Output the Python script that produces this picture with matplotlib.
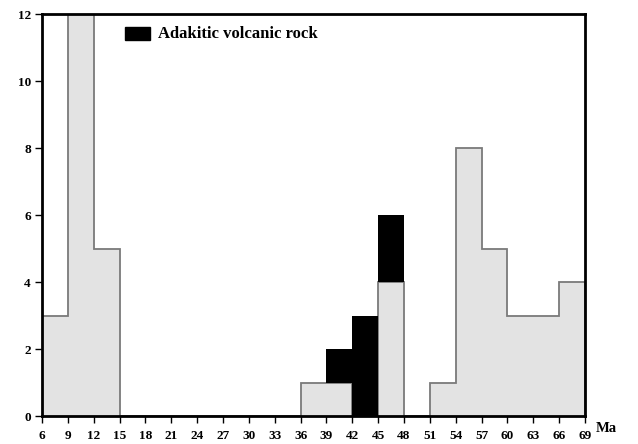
import numpy as np
import matplotlib.pyplot as plt
from matplotlib.patches import Rectangle

# Age bins (Ma), 3 Ma wide
edges = np.arange(6, 70, 3)
# counts of all dated rocks per bin (light gray)
gray_counts = [3, 12, 5, 0, 0, 0, 0, 0, 0, 0, 1, 1, 0, 4, 0, 1, 8, 5, 3, 3, 4]
# adakitic volcanic rock counts per bin (black, stacked on gray)
adakite_counts = [0, 0, 0, 0, 0, 0, 0, 0, 0, 0, 0, 1, 3, 2, 0, 0, 0, 0, 0, 0, 0]

plt.rcParams['font.family'] = ['Liberation Serif', 'DejaVu Serif']
plt.rcParams['font.weight'] = 'bold'

fig = plt.figure(figsize=(6.38, 4.44), dpi=100)
ax = fig.add_axes([42 / 638, 1 - 416 / 444, (585 - 42) / 638, (416 - 14) / 444])

ax.stairs(gray_counts, edges, fill=True, facecolor='#e3e3e3', edgecolor='#7a7a7a',
          linewidth=1.3, baseline=0)

centers = edges[:-1] + 1.5
ax.bar(centers, adakite_counts, width=3, bottom=gray_counts, color='black', linewidth=0)

ax.set_xlim(6, 69)
ax.set_ylim(0, 12)
ax.set_xticks(edges)
ax.set_yticks(np.arange(0, 13, 2))
ax.tick_params(direction='out', length=5, width=1, labelsize=9.5, pad=3)
ax.tick_params(axis='x', pad=5)
for lab in ax.get_xticklabels() + ax.get_yticklabels():
    lab.set_fontweight('bold')
for s in ax.spines.values():
    s.set_linewidth(2)

ax.text(1.02, -0.015, 'Ma', transform=ax.transAxes, fontsize=10.5, fontweight='bold',
        ha='left', va='top')

# legend
ax.add_patch(Rectangle((0.153, 0.935), 0.045, 0.032, transform=ax.transAxes,
                       facecolor='black', edgecolor='black', clip_on=False))
ax.text(0.213, 0.951, 'Adakitic volcanic rock', transform=ax.transAxes, fontsize=12,
        fontweight='bold', va='center', ha='left')

fig.savefig('out.png', dpi=100)
